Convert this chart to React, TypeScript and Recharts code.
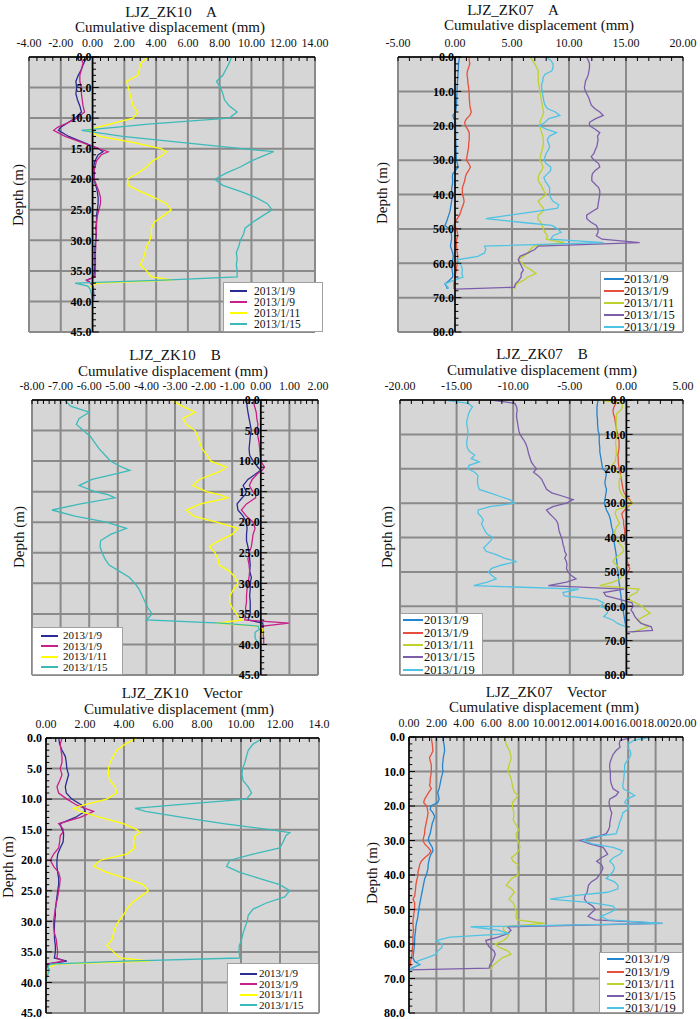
import React from 'react';
import { LineChart, Line, XAxis, YAxis, CartesianGrid, ReferenceLine, Legend } from 'recharts';

const FONT = '"Liberation Serif", "Times New Roman", serif';

// depth rows (m)
const zk10Depths = [
  0, 1, 2, 3, 4, 5, 6, 7, 8, 9, 10, 11,
  11.5, 12, 13, 14, 15, 15.5,
  16, 17, 18, 19, 20, 21, 22, 23, 24, 25,
  26, 27, 28, 29, 30, 31, 32, 33, 34, 35, 36,
  36.5, 37, 37.5, 38, 39, 40,
];
const zk07Depths = [
  0, 1, 2, 3, 4, 5, 6, 7, 8, 9,
  10, 11, 12, 13, 14, 15, 16, 17, 18, 19,
  20, 21, 22, 23, 24, 25, 26, 27, 28, 29,
  30, 31, 32, 33, 34, 35, 36, 37, 38, 39,
  40, 41, 42, 43, 44, 45, 46, 47, 48, 49,
  50, 51, 52, 53, 54, 55, 56, 57, 58, 59,
  60, 61, 62, 63, 64, 65, 66, 67, 67.5,
];

const zk10Dates = ['2013/1/9', '2013/1/9', '2013/1/11', '2013/1/15'];
const zk07Dates = ['2013/1/9', '2013/1/9', '2013/1/11', '2013/1/15', '2013/1/19'];
const zk10Colors = ['#2b2b95', '#c8208a', '#ffff00', '#3cbaba'];
const zk07Colors = ['#2384d0', '#e6503c', '#bfd12c', '#7d5eab', '#4fc3e3'];

const zk10DepthLabels = ['0.0', '5.0', '10.0', '15.0', '20.0', '25.0', '30.0', '35.0', '40.0', '45.0'];
const zk07DepthLabels = ['0.0', '10.0', '20.0', '30.0', '40.0', '50.0', '60.0', '70.0', '80.0'];

const zk10ALabels = ['-4.00', '-2.00', '0.00', '2.00', '4.00', '6.00', '8.00', '10.00', '12.00', '14.00'];
const zk07ALabels = ['-5.00', '0.00', '5.00', '10.00', '15.00', '20.00'];
const zk10BLabels = ['-8.00', '-7.00', '-6.00', '-5.00', '-4.00', '-3.00', '-2.00', '-1.00', '0.00', '1.00', '2.00'];
const zk07BLabels = ['-20.00', '-15.00', '-10.00', '-5.00', '0.00', '5.00'];
const zk10VLabels = ['0.00', '2.00', '4.00', '6.00', '8.00', '10.00', '12.00', '14.0'];
const zk07VLabels = ['0.00', '2.00', '4.00', '6.00', '8.00', '10.00', '12.00', '14.00', '16.00', '18.00', '20.00'];

// LJZ_ZK10 A
const zk10A_0109a = [
  -0.35, -0.55, -0.7, -0.9, -1.05, -1.0, -1.05, -0.95, -0.8, -0.7, -1.1, -1.7,
  -2.0, -2.15, -1.5, -0.55, 0.37, 0.66,
  0.35, 0.15, 0.07, 0.12, 0.08, 0.2, 0.3, 0.35, 0.35, 0.3,
  0.25, 0.25, 0.2, 0.25, 0.2, 0.15, 0.15, 0.15, 0.15, 0.12, 0.08,
  -0.35, -0.1, 0.0, 0.05, 0.08, 0.05,
];
const zk10A_0109b = [
  -0.75, -0.6, -0.7, -0.8, -0.8, -0.7, -0.7, -0.65, -0.6, -0.5, -1.0, -1.75,
  -2.2, -2.45, -1.73, -0.64, 0.4, 0.98,
  0.55, 0.25, 0.15, 0.08, 0.1, 0.25, 0.4, 0.5, 0.5, 0.4,
  0.3, 0.25, 0.25, 0.22, 0.2, 0.2, 0.18, 0.18, 0.18, 0.18, 0.15,
  -0.4, -0.1, 0.02, 0.05, 0.05, 0.05,
];
const zk10A_0111 = [
  3.5, 3.05, 2.95, 2.85, 2.15, 2.25, 2.35, 2.45, 2.55, 2.85, 2.55, 1.1,
  0.3, -0.35, 0.45, 2.6, 4.3, 4.65,
  4.45, 3.8, 3.4, 2.85, 2.2, 2.25, 3.0, 3.9, 4.65, 4.95,
  4.45, 3.9, 3.7, 3.7, 3.6, 3.4, 3.3, 3.2, 3.0, 3.4, 3.7,
  5.05, 0.3, -0.1, -0.05, 0, 0,
];
const zk10A_0115 = [
  8.75, 8.6, 8.4, 8.2, 7.8, 8.05, 8.2, 8.3, 8.6, 9.1, 8.6, 3.5,
  1.4, -0.7, 1.9, 5.7, 9.4, 11.4,
  10.9, 10.0, 9.3, 8.4, 7.7, 8.2, 9.3, 10.3, 11.0, 11.3,
  10.7, 10.1, 9.6, 9.5, 9.3, 9.2, 9.05, 9.1, 9.05, 9.1, 9.1,
  4.5, -1.1, -0.3, -0.15, -0.05, 0,
];

// LJZ_ZK10 B
const zk10B_0109a = [
  -0.5, -0.48, -0.45, -0.41, -0.37, -0.33, -0.37, -0.39, -0.41, -0.39, -0.27, -0.1,
  0.0, -0.15, -0.45, -0.62, -0.5, -0.55,
  -0.65, -0.83, -0.8, -0.62, -0.5, -0.48, -0.5, -0.5, -0.45, -0.41,
  -0.39, -0.37, -0.39, -0.33, -0.37, -0.37, -0.39, -0.37, -0.37, -0.37, -0.45,
  0.07, 0.08, 0.03, 0.0, -0.01, -0.01,
];
const zk10B_0109b = [
  -0.27, -0.22, -0.16, -0.14, -0.1, -0.14, -0.1, -0.06, -0.04, -0.02, 0.0, 0.13,
  0.05, -0.1, -0.3, -0.4, -0.28, -0.18,
  -0.18, -0.5, -0.68, -0.5, -0.27, -0.2, -0.27, -0.3, -0.33, -0.41,
  -0.45, -0.41, -0.39, -0.41, -0.45, -0.48, -0.5, -0.5, -0.53, -0.53, -0.56,
  0.98, 0.08, 0.08, 0.08, 0.1, 0.1,
];
const zk10B_0111 = [
  -3.13, -2.75, -2.3, -2.72, -2.6, -2.3, -2.2, -2.13, -2.05, -1.88, -1.75, -1.2,
  -1.35, -1.6, -2.15, -2.38, -1.9, -1.45,
  -1.15, -2.1, -2.6, -2.35, -1.55, -0.8, -1.0, -1.45, -1.8, -1.6,
  -1.5, -1.45, -1.1, -0.9, -0.8, -0.95, -1.08, -1.1, -1.0, -0.85, -0.65,
  -1.55, -0.15, 0.08, 0.05, 0.0, -0.02,
];
const zk10B_0115 = [
  -6.85, -6.65, -6.0, -6.35, -6.45, -6.2, -5.95, -5.8, -5.65, -5.45, -5.25, -4.85,
  -4.58, -5.0, -5.9, -6.35, -5.8, -5.35,
  -5.1, -6.3, -7.3, -6.5, -5.4, -4.7, -5.25, -5.6, -5.62, -5.55,
  -5.45, -5.3, -4.95, -4.6, -4.4, -4.25, -4.15, -4.05, -3.95, -3.8, -4.0,
  -1.4, -0.1, -0.05, -0.2, -0.2, -0.05,
];

// LJZ_ZK10 Vector
const zk10V_0109a = [
  0.65, 0.7, 0.82, 0.99, 1.04, 1.07, 1.16, 1.07, 0.99, 1.04, 1.33, 1.84,
  1.95, 2.01, 1.5, 0.73, 0.82, 0.9,
  0.9, 0.88, 0.73, 0.6, 0.56, 0.56, 0.6, 0.65, 0.65, 0.6,
  0.56, 0.52, 0.48, 0.48, 0.44, 0.43, 0.43, 0.44, 0.48, 0.48, 0.43,
  1.07, 0.05, 0.05, 0.05, 0.0, 0.0,
];
const zk10V_0109b = [
  0.82, 0.73, 0.77, 0.82, 0.82, 0.73, 0.82, 0.7, 0.56, 0.65, 1.07, 1.59,
  2.0, 2.44, 1.76, 0.65, 0.9, 0.85,
  0.73, 0.7, 0.65, 0.39, 0.22, 0.39, 0.65, 0.73, 0.7, 0.65,
  0.6, 0.53, 0.48, 0.43, 0.39, 0.39, 0.44, 0.53, 0.56, 0.6, 0.56,
  0.9, 0.02, 0.05, 0.05, 0.02, 0.0,
];
const zk10V_0111 = [
  4.66, 4.06, 3.63, 3.46, 3.29, 3.2, 3.2, 3.29, 3.55, 3.63, 3.12, 1.9,
  1.42, 1.76, 2.78, 3.97, 4.66, 4.83,
  4.57, 4.49, 4.55, 4.14, 2.78, 2.44, 3.12, 4.14, 5.0, 5.25,
  4.83, 4.4, 4.14, 3.97, 3.72, 3.55, 3.46, 3.38, 3.12, 3.46, 3.8,
  5.34, 0.56, 0.15, 0.05, 0.05, 0.02,
];
const zk10V_0115 = [
  11.14, 10.62, 10.37, 10.28, 10.2, 10.08, 10.05, 10.11, 10.37, 10.54, 10.28, 6.5,
  4.57, 5.1, 7.0, 9.1, 11.5, 12.5,
  12.3, 12.16, 11.99, 10.62, 9.43, 9.26, 9.94, 10.97, 11.99, 12.5,
  12.24, 11.3, 10.62, 10.37, 10.32, 10.2, 10.1, 10.03, 9.91, 9.9, 9.94,
  4.0, 0.2, 0.1, 0.18, 0.05, 0.0,
];

// LJZ_ZK07 A
const zk07A_0109a = [
  0.4, 0.35, 0.3, 0.3, 0.28, 0.26, 0.24, 0.22, 0.2, 0.18,
  0.18, 0.16, 0.15, 0.15, 0.12, 0.1, 0.05, -0.18, -0.1, 0.05,
  0.05, 0.05, 0.06, 0.06, 0.06, 0.08, 0.08, 0.1, 0.1, 0.12,
  0.12, 0.2, 0.28, 0.05, -0.2, -0.23, -0.2, -0.22, -0.28, -0.3,
  -0.2, -0.25, -0.3, -0.35, -0.4, -0.45, -0.55, -0.65, -0.75, -0.88,
  -0.5, -0.35, -0.3, -0.3, -0.35, -0.4, -0.3, -0.2, -0.15, -0.2,
  -0.25, -0.3, -0.25, -0.2, -0.2, -0.5, -0.88, -0.7, -0.7,
];
const zk07A_0109b = [
  1.23, 1.25, 1.3, 1.2, 1.1, 1.05, 1.1, 1.12, 1.15, 1.2,
  1.23, 1.25, 1.25, 1.28, 1.3, 1.35, 1.43, 1.3, 1.0, 0.85,
  0.9, 1.1, 1.25, 1.25, 1.25, 1.2, 1.2, 1.15, 1.1, 1.05,
  1.0, 1.2, 1.35, 1.2, 1.0, 0.9, 0.85, 0.75, 0.65, 0.65,
  0.65, 0.75, 0.8, 0.72, 0.6, 0.5, 0.4, 0.2, 0.0, -0.1,
  0.15, 0.2, 0.25, 0.15, 0.1, 0.15, 0.15, 0.2, 0.25, 0.2,
  0.2, 0.15, 0.1, 0.05, 0.0, -0.05, -0.1, -0.1, -0.1,
];
const zk07A_0111 = [
  6.55, 6.8, 7.0, 7.15, 7.3, 7.3, 7.3, 7.3, 7.35, 7.4,
  7.43, 7.5, 7.55, 7.6, 7.66, 7.7, 7.78, 7.7, 7.55, 7.45,
  7.43, 7.5, 7.6, 7.7, 7.75, 7.75, 7.72, 7.65, 7.55, 7.5,
  7.45, 7.6, 7.72, 7.6, 7.4, 7.3, 7.3, 7.5, 7.65, 7.8,
  8.0, 7.6, 7.3, 7.5, 7.75, 7.7, 7.3, 7.25, 7.5, 7.65,
  7.75, 7.9, 8.1, 8.0, 9.6, 6.9, 6.6, 6.4, 6.0, 5.55,
  5.9, 6.2, 6.7, 7.1, 6.4, 6.0, 5.4, 5.3, 5.2,
];
const zk07A_0115 = [
  11.52, 11.7, 11.8, 11.8, 11.75, 11.7, 11.6, 11.45, 11.4, 11.35,
  11.45, 11.6, 11.75, 11.85, 11.96, 12.25, 12.7, 13.0, 12.3, 11.8,
  11.8, 12.3, 12.7, 12.5, 12.55, 12.5, 12.45, 12.3, 12.2, 11.95,
  12.2, 12.6, 12.7, 12.3, 12.05, 12.0, 12.0, 12.3, 12.6, 12.7,
  12.7, 12.65, 12.6, 12.55, 12.5, 12.0, 11.55, 11.55, 11.9, 12.4,
  12.55, 12.55, 12.4, 12.9, 16.2, 7.3, 7.0, 6.4, 5.7, 5.55,
  5.7, 5.85, 6.0, 5.8, 5.8, 5.6, 5.3, 5.2, 0.0,
];
const zk07A_0119 = [
  8.0, 8.4, 8.6, 8.6, 8.5, 7.9, 7.72, 7.7, 7.6, 7.6,
  7.65, 7.7, 7.75, 7.8, 7.9, 8.1, 8.8, 9.2, 8.2, 7.9,
  7.4, 8.0, 8.9, 8.3, 8.1, 8.2, 8.3, 8.2, 8.0, 7.9,
  7.8, 8.0, 8.4, 8.4, 8.1, 7.8, 7.9, 8.1, 8.3, 8.3,
  8.3, 8.4, 8.6, 9.1, 9.0, 7.0, 4.8, 2.7, 5.5, 8.5,
  9.0, 9.3, 8.6, 8.4, 13.0, 2.6, 2.7, 2.6, 2.0, 0.2,
  0.4, 0.6, 0.65, 0.6, 0.7, -0.1, -0.9, -0.6, -0.6,
];

// LJZ_ZK07 B
const zk07B_0109a = [
  -2.5, -2.55, -2.6, -2.6, -2.6, -2.58, -2.55, -2.55, -2.52, -2.5,
  -2.4, -2.4, -2.4, -2.38, -2.35, -2.35, -2.3, -2.25, -2.2, -2.15,
  -2.1, -1.76, -1.8, -1.85, -1.9, -1.85, -1.76, -1.8, -1.85, -1.9,
  -1.95, -1.85, -1.76, -1.6, -1.47, -1.4, -1.35, -1.3, -1.2, -1.2,
  -1.18, -1.1, -1.05, -1.0, -0.95, -0.9, -0.88, -0.85, -0.82, -0.8,
  -0.74, -0.72, -0.68, -0.65, -0.6, -0.58, -0.52, -0.48, -0.45, -0.4,
  -0.35, -0.3, -0.25, -0.2, -0.15, -0.1, 0.0, 0.05, 0.05,
];
const zk07B_0109b = [
  -0.88, -0.95, -1.1, -1.18, -1.15, -1.05, -1.0, -0.95, -0.9, -0.85,
  -0.75, -0.7, -0.65, -0.65, -0.65, -0.7, -0.75, -0.72, -0.72, -0.68,
  -0.65, -0.55, -0.5, -0.45, -0.4, -0.35, -0.3, -0.2, 0.0, 0.3,
  0.5, 0.15, -0.15, -0.4, -0.35, -0.25, -0.25, -0.2, -0.15, -0.15,
  -0.15, -0.1, -0.08, -0.05, 0.0, 0.05, 0.05, 0.1, 0.15, 0.3,
  0.15, 0.0, -0.05, 0.05, 0.0, -0.05, 0.0, 0.05, 0.0, 0.05,
  0.1, 0.0, 0.05, 0.0, 0.02, 0.0, 0.0, 0.0, 0.0,
];
const zk07B_0111 = [
  -2.35, -0.4, -0.35, -0.5, -0.88, -0.88, -0.9, -0.9, -0.9, -0.9,
  -0.88, -0.9, -0.95, -0.95, -0.9, -0.9, -0.9, -0.95, -1.0, -1.3,
  -1.2, -0.75, -0.45, -0.6, -0.65, -0.65, -0.6, -0.5, -0.3, 0.2,
  0.55, 0.0, -0.9, -1.0, -0.88, -0.75, -0.6, -0.88, -1.0, -1.05,
  -1.03, -0.75, -0.55, -0.3, -0.25, -0.6, -1.0, -1.18, -0.88, -0.6,
  -0.6, -0.3, -0.55, -1.2, -2.35, 1.1, 0.9, 0.3, 0.2, 0.8,
  1.4, 1.7, 2.1, 1.5, 1.0, 1.4, 1.9, 1.0, 0.5,
];
const zk07B_0115 = [
  -11.9, -9.85, -9.7, -9.65, -9.7, -9.7, -9.65, -9.6, -9.55, -9.5,
  -9.4, -9.2, -9.0, -8.85, -8.75, -8.68, -8.6, -8.5, -8.4, -8.2,
  -7.94, -8.2, -7.8, -7.5, -7.35, -7.2, -7.05, -6.6, -5.6, -4.7,
  -5.3, -6.5, -7.06, -6.8, -6.5, -6.2, -6.05, -6.0, -5.95, -5.85,
  -5.74, -5.65, -5.6, -5.5, -5.45, -5.3, -5.45, -5.3, -5.25, -5.3,
  -5.15, -4.9, -4.45, -5.3, -6.9, -0.2, -2.0, -1.8, -0.6, 0.5,
  0.6, 0.4, 0.6, 0.75, 1.0, 1.3, 2.2, 2.3, 0.0,
];
const zk07B_0119 = [
  -16.0, -13.97, -13.6, -13.8, -13.95, -14.0, -14.1, -14.1, -14.05, -14.0,
  -14.0, -14.05, -14.1, -14.1, -14.05, -13.85, -13.4, -13.7, -13.0, -13.9,
  -14.0, -13.4, -13.1, -13.15, -13.15, -13.1, -13.0, -12.06, -11.2, -10.3,
  -9.85, -12.06, -13.1, -13.1, -12.8, -12.65, -12.8, -12.65, -12.5, -12.3,
  -11.8, -12.0, -12.3, -12.6, -12.4, -11.5, -10.8, -9.7, -11.0, -11.9,
  -12.2, -11.9, -11.5, -12.3, -13.5, -4.2, -5.6, -5.5, -2.6, -2.0,
  -2.3, -1.6, -1.7, -2.0, -1.2, -0.8, 0.0, 0.1, 0.0,
];

// LJZ_ZK07 Vector
const zk07V_0109a = [
  2.48, 2.5, 2.55, 2.58, 2.6, 2.55, 2.5, 2.48, 2.45, 2.45,
  2.48, 2.42, 2.35, 2.3, 2.25, 2.2, 2.1, 2.15, 2.2, 2.1,
  1.6, 1.55, 1.75, 1.87, 1.8, 1.7, 1.65, 1.6, 1.55, 1.45,
  1.4, 1.55, 1.7, 1.75, 1.6, 1.5, 1.45, 1.4, 1.39, 1.33,
  1.27, 1.15, 1.1, 1.05, 1.0, 0.95, 0.9, 0.85, 0.8, 0.75,
  0.73, 0.68, 0.65, 0.6, 0.54, 0.5, 0.48, 0.45, 0.42, 0.41,
  0.41, 0.38, 0.35, 0.32, 0.29, 0.4, 0.78, 0.2, 0.1,
];
const zk07V_0109b = [
  1.63, 1.65, 1.7, 1.72, 1.75, 1.63, 1.5, 1.55, 1.63, 1.63,
  1.63, 1.6, 1.55, 1.55, 1.5, 1.63, 1.45, 1.3, 1.14, 1.07,
  1.3, 1.35, 1.39, 1.35, 1.3, 1.25, 1.2, 1.15, 1.14, 1.07,
  1.02, 1.14, 1.39, 1.6, 1.45, 1.14, 0.9, 0.78, 0.73, 0.66,
  0.66, 0.6, 0.54, 0.5, 0.48, 0.45, 0.42, 0.29, 0.41, 0.41,
  0.41, 0.36, 0.34, 0.3, 0.29, 0.3, 0.34, 0.3, 0.29, 0.29,
  0.29, 0.25, 0.24, 0.22, 0.17, 0.12, 0.1, 0.0, 0.0,
];
const zk07V_0111 = [
  6.9, 7.0, 7.1, 7.2, 7.35, 7.4, 7.47, 7.4, 7.3, 7.25,
  7.23, 7.35, 7.45, 7.5, 7.55, 7.6, 7.71, 7.96, 7.75, 7.55,
  7.55, 7.6, 7.65, 7.65, 7.6, 7.75, 7.9, 8.0, 7.8, 7.85,
  7.95, 8.05, 8.1, 8.0, 7.8, 7.47, 7.6, 7.95, 7.9, 7.95,
  7.96, 7.5, 7.3, 7.1, 7.5, 7.7, 7.5, 7.3, 7.6, 7.7,
  7.8, 7.85, 7.8, 7.9, 9.9, 6.9, 6.9, 7.3, 7.2, 6.9,
  6.3, 6.6, 7.2, 7.45, 6.8, 6.5, 6.2, 6.0, 6.0,
];
const zk07V_0115 = [
  16.35, 15.4, 15.35, 15.4, 15.1, 14.9, 14.8, 14.7, 14.65, 14.65,
  14.7, 14.7, 14.7, 14.72, 14.8, 14.9, 15.3, 15.1, 14.65, 14.6,
  14.65, 14.7, 14.8, 14.75, 14.7, 14.65, 14.65, 14.55, 14.4, 13.7,
  12.5, 13.2, 14.16, 14.35, 14.5, 14.05, 13.7, 14.05, 14.16, 14.05,
  13.9, 13.7, 13.3, 13.1, 13.05, 13.0, 12.85, 12.8, 13.0, 13.4,
  13.6, 13.3, 13.07, 13.6, 18.5, 7.2, 7.45, 7.2, 6.5, 5.6,
  5.7, 5.9, 6.2, 6.3, 6.2, 6.1, 5.9, 5.85, 0.0,
];
const zk07V_0119 = [
  17.7, 16.4, 16.0, 15.95, 16.15, 16.2, 16.1, 15.9, 15.74, 15.74,
  15.74, 15.7, 15.68, 15.65, 15.6, 15.65, 16.1, 16.47, 15.9, 15.74,
  16.1, 15.95, 15.6, 15.55, 15.45, 15.35, 15.3, 15.2, 15.13, 13.4,
  12.7, 13.4, 14.9, 15.6, 15.4, 14.9, 14.65, 14.9, 15.0, 14.9,
  14.65, 14.4, 15.0, 15.25, 15.25, 14.5, 12.0, 10.3, 13.3, 14.9,
  15.1, 14.6, 14.0, 14.5, 18.5, 4.5, 6.5, 7.3, 3.0, 2.0,
  2.4, 2.4, 2.1, 1.95, 1.3, 0.6, 0.7, 0.3, 0.1,
];

type LegendCfg = {
  x: number; y: number; w: number; h: number;
  row0: number; rowH: number; lineX0: number; lineX1: number; textX: number; fs: number;
};

type PanelCfg = {
  title: string;
  titlePos: [number, number];
  subPos: [number, number];
  depthPos: [number, number];
  plot: { x: number; y: number; w: number; h: number };
  xDomain: [number, number];
  xMajorStep: number;
  xMinorStep: number;
  xLabels: string[];
  yMax: number;
  yMajorStep: number;
  yMinorStep: number;
  yLabels: string[];
  yLabelOffset: number;
  depths: number[];
  series: number[][];
  names: string[];
  colors: string[];
  legend: LegendCfg;
};

const panels: PanelCfg[] = [
  {
    title: 'LJZ_ZK10    A', titlePos: [171, 12], subPos: [170, 27], depthPos: [18, 195],
    plot: { x: 29, y: 57, w: 286, h: 275 },
    xDomain: [-4, 14], xMajorStep: 2, xMinorStep: 0.5, xLabels: zk10ALabels,
    yMax: 45, yMajorStep: 5, yMinorStep: 1, yLabels: zk10DepthLabels, yLabelOffset: 1,
    depths: zk10Depths, series: [zk10A_0109a, zk10A_0109b, zk10A_0111, zk10A_0115],
    names: zk10Dates, colors: zk10Colors,
    legend: { x: 223, y: 282, w: 100, h: 50, row0: 8, rowH: 11, lineX0: 6, lineX1: 23, textX: 30, fs: 11.5 },
  },
  {
    title: 'LJZ_ZK07    A', titlePos: [513, 10], subPos: [539, 25], depthPos: [382, 193],
    plot: { x: 398, y: 57, w: 285, h: 275 },
    xDomain: [-5, 20], xMajorStep: 5, xMinorStep: 1, xLabels: zk07ALabels,
    yMax: 80, yMajorStep: 10, yMinorStep: 2, yLabels: zk07DepthLabels, yLabelOffset: 1,
    depths: zk07Depths, series: [zk07A_0109a, zk07A_0109b, zk07A_0111, zk07A_0115, zk07A_0119],
    names: zk07Dates, colors: zk07Colors,
    legend: { x: 600, y: 271, w: 83, h: 61, row0: 6.5, rowH: 12, lineX0: 3, lineX1: 23, textX: 23, fs: 12.5 },
  },
  {
    title: 'LJZ_ZK10    B', titlePos: [175, 355], subPos: [173, 371], depthPos: [19, 537],
    plot: { x: 32, y: 400, w: 286, h: 275 },
    xDomain: [-8, 2], xMajorStep: 1, xMinorStep: 0.2, xLabels: zk10BLabels,
    yMax: 45, yMajorStep: 5, yMinorStep: 1, yLabels: zk10DepthLabels, yLabelOffset: 1,
    depths: zk10Depths, series: [zk10B_0109a, zk10B_0109b, zk10B_0111, zk10B_0115],
    names: zk10Dates, colors: zk10Colors,
    legend: { x: 32, y: 627, w: 91, h: 48, row0: 7.5, rowH: 10.5, lineX0: 8, lineX1: 25, textX: 30, fs: 11 },
  },
  {
    title: 'LJZ_ZK07    B', titlePos: [542, 354], subPos: [542, 370], depthPos: [387, 537],
    plot: { x: 400, y: 400, w: 283, h: 275 },
    xDomain: [-20, 5], xMajorStep: 5, xMinorStep: 1, xLabels: zk07BLabels,
    yMax: 80, yMajorStep: 10, yMinorStep: 2, yLabels: zk07DepthLabels, yLabelOffset: 1,
    depths: zk07Depths, series: [zk07B_0109a, zk07B_0109b, zk07B_0111, zk07B_0115, zk07B_0119],
    names: zk07Dates, colors: zk07Colors,
    legend: { x: 400, y: 613, w: 83, h: 62, row0: 6.5, rowH: 12.3, lineX0: 2, lineX1: 22, textX: 23, fs: 12.5 },
  },
  {
    title: 'LJZ_ZK10    Vector', titlePos: [182, 693], subPos: [179, 709], depthPos: [8, 867],
    plot: { x: 46, y: 738, w: 273, h: 275 },
    xDomain: [0, 14], xMajorStep: 2, xMinorStep: 0.5, xLabels: zk10VLabels,
    yMax: 45, yMajorStep: 5, yMinorStep: 1, yLabels: zk10DepthLabels, yLabelOffset: 4,
    depths: zk10Depths, series: [zk10V_0109a, zk10V_0109b, zk10V_0111, zk10V_0115],
    names: zk10Dates, colors: zk10Colors,
    legend: { x: 227, y: 963, w: 92, h: 50, row0: 9.5, rowH: 10.5, lineX0: 12, lineX1: 29, textX: 31, fs: 11 },
  },
  {
    title: 'LJZ_ZK07    Vector', titlePos: [546, 692], subPos: [544, 707], depthPos: [372, 873],
    plot: { x: 409, y: 737, w: 274, h: 276 },
    xDomain: [0, 20], xMajorStep: 2, xMinorStep: 0.5, xLabels: zk07VLabels,
    yMax: 80, yMajorStep: 10, yMinorStep: 2, yLabels: zk07DepthLabels, yLabelOffset: 4,
    depths: zk07Depths, series: [zk07V_0109a, zk07V_0109b, zk07V_0111, zk07V_0115, zk07V_0119],
    names: zk07Dates, colors: zk07Colors,
    legend: { x: 599, y: 952, w: 84, h: 61, row0: 6.5, rowH: 12.2, lineX0: 7, lineX1: 24, textX: 25, fs: 12.5 },
  },
];

const steps = (min: number, max: number, step: number) => {
  const n = Math.round((max - min) / step);
  return Array.from({ length: n + 1 }, (_, i) => Number((min + i * step).toFixed(6)));
};

const ML = 48;
const MR = 22;
const MT = 12;
const MB = 12;
const AXIS_H = 20;

const LegendBox = ({ p }: { p: PanelCfg }) => {
  const L = p.legend;
  return (
    <div
      style={{
        position: 'relative', width: L.w, height: L.h, background: '#fff',
        border: '1px solid #a0a0a0', boxSizing: 'border-box', fontFamily: FONT,
      }}
    >
      {p.names.map((n, i) => (
        <div
          key={i}
          style={{ position: 'absolute', left: 0, top: L.row0 + i * L.rowH - L.rowH / 2, width: L.w, height: L.rowH }}
        >
          <div
            style={{
              position: 'absolute', left: L.lineX0, top: L.rowH / 2 - 1, width: L.lineX1 - L.lineX0, height: 2,
              background: p.colors[i],
            }}
          />
          <div
            style={{
              position: 'absolute', left: L.textX, top: 0, height: L.rowH, lineHeight: `${L.rowH}px`,
              fontSize: L.fs, fontFamily: FONT, color: '#111', whiteSpace: 'nowrap',
            }}
          >
            {n}
          </div>
        </div>
      ))}
    </div>
  );
};

const DepthPanel = ({ p }: { p: PanelCfg }) => {
  const width = p.plot.w + ML + MR;
  const height = p.plot.h + MT + AXIS_H + MB;
  const left = p.plot.x - ML;
  const top = p.plot.y - MT - AXIS_H;

  const rows = p.depths.map((d, i) => {
    const r: Record<string, number> = { depth: d };
    p.series.forEach((s, k) => {
      r['s' + k] = s[i];
    });
    return r;
  });

  const span = p.xDomain[1] - p.xDomain[0];
  const xTicks = steps(p.xDomain[0], p.xDomain[1], p.xMinorStep);
  const xRatio = Math.round(p.xMajorStep / p.xMinorStep);
  const xMajor = steps(p.xDomain[0], p.xDomain[1], p.xMajorStep);
  const yMajor = steps(0, p.yMax, p.yMajorStep);
  const yRatio = Math.round(p.yMajorStep / p.yMinorStep);
  const yMinor = steps(0, p.yMax, p.yMinorStep).filter((_, i) => i % yRatio !== 0);

  return (
    <div style={{ position: 'absolute', left, top, width, height, fontFamily: FONT }}>
      <LineChart
        layout="vertical"
        width={width}
        height={height}
        data={rows}
        margin={{ top: MT, right: MR, bottom: MB, left: ML }}
        style={{ fontFamily: FONT }}
      >
        <CartesianGrid
          fill="#d6d6d6"
          stroke="#8a8a8a"
          strokeWidth={2}
          verticalValues={xMajor}
          horizontalValues={yMajor}
        />
        <XAxis
          type="number"
          orientation="top"
          domain={p.xDomain}
          ticks={xTicks}
          interval={0}
          height={AXIS_H}
          tickSize={-4}
          tickMargin={14}
          tickFormatter={(v: number, i: number) => (i % xRatio === 0 ? p.xLabels[i / xRatio] : '')}
          axisLine={{ stroke: '#000', strokeWidth: 1.5 }}
          tickLine={{ stroke: '#000' }}
          tick={{ fill: '#111', fontSize: 12, fontFamily: FONT }}
          allowDataOverflow
        />
        <YAxis type="number" dataKey="depth" domain={[0, p.yMax]} hide allowDataOverflow />
        {p.series.map((_, k) => (
          <Line
            key={k}
            type="linear"
            dataKey={'s' + k}
            name={p.names[k]}
            stroke={p.colors[k]}
            strokeWidth={1.3}
            dot={false}
            activeDot={false}
            isAnimationActive={false}
          />
        ))}
        <ReferenceLine x={0} stroke="#000" strokeWidth={1.5} ifOverflow="visible" />
        {yMinor.map((d) => (
          <ReferenceLine
            key={'m' + d}
            segment={[{ x: 0, y: d }, { x: span * 0.012, y: d }]}
            stroke="#000"
            ifOverflow="visible"
          />
        ))}
        {yMajor.map((d, i) => (
          <ReferenceLine
            key={'M' + d}
            segment={[{ x: 0, y: d }, { x: span * 0.022, y: d }]}
            stroke="#000"
            ifOverflow="visible"
            label={{
              value: p.yLabels[i], position: 'left', offset: p.yLabelOffset,
              fill: '#000', fontSize: 12, fontWeight: 700, fontFamily: FONT,
            }}
          />
        ))}
        <Legend
          layout="vertical"
          align="center"
          verticalAlign="middle"
          content={() => <LegendBox p={p} />}
          wrapperStyle={{
            left: p.legend.x - left, top: p.legend.y - top,
            width: p.legend.w, height: p.legend.h, margin: 0, padding: 0,
          }}
        />
      </LineChart>
    </div>
  );
};

const centered = (pos: [number, number], extra: React.CSSProperties = {}): React.CSSProperties => ({
  position: 'absolute',
  left: pos[0],
  top: pos[1],
  transform: 'translate(-50%, -50%)',
  whiteSpace: 'pre',
  fontSize: 15,
  lineHeight: 1,
  color: '#111',
  fontFamily: FONT,
  ...extra,
});

export default function App() {
  return (
    <div
      style={{
        position: 'absolute', left: 0, top: 0, width: 700, height: 1019,
        background: '#fff', fontFamily: FONT, overflow: 'hidden',
      }}
    >
      {panels.map((p) => (
        <React.Fragment key={p.title}>
          <div style={centered(p.titlePos)}>{p.title}</div>
          <div style={centered(p.subPos)}>Cumulative displacement (mm)</div>
          <div style={centered(p.depthPos, { transform: 'translate(-50%, -50%) rotate(-90deg)' })}>Depth (m)</div>
          <DepthPanel p={p} />
        </React.Fragment>
      ))}
    </div>
  );
}
